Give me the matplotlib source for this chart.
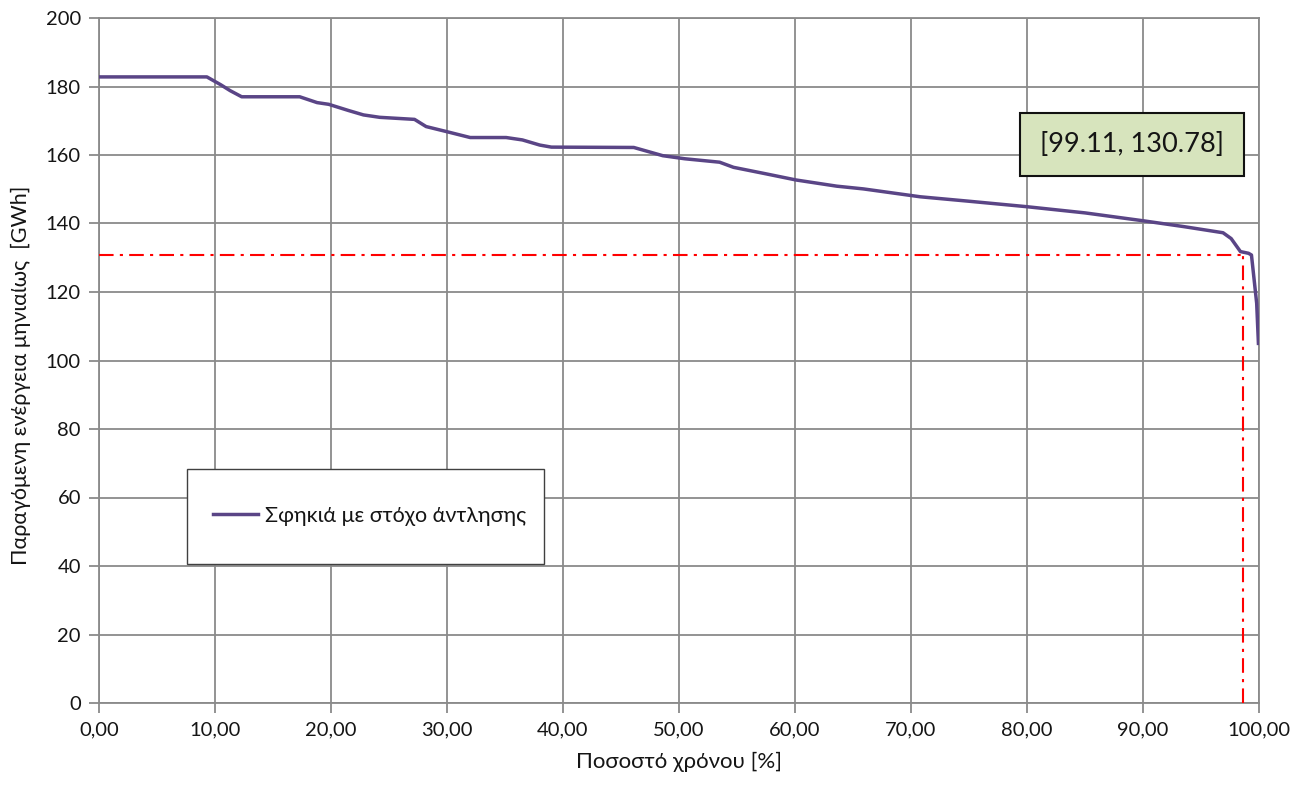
import matplotlib
matplotlib.use("Agg")
import matplotlib.pyplot as plt
from matplotlib.patches import Rectangle
import numpy as np

plt.rcParams['font.family'] = ['Lato', 'Open Sans', 'DejaVu Sans']

# Duration curve: percentage of time vs monthly energy (GWh)
time_pct = [0.0, 9.3, 10.5, 11.3, 12.3, 17.3, 18.8, 19.8, 21.5, 22.8, 24.2, 27.2,
            28.2, 30.0, 32.0, 35.1, 36.5, 38.0, 39.0, 46.1, 48.6, 50.5, 53.5, 54.7,
            57.5, 60.1, 63.6, 65.9, 70.8, 75.0, 80.0, 85.0, 90.0, 93.5, 96.9, 97.6,
            98.4, 99.1, 99.35, 99.8, 99.95]
energy = [182.8, 182.8, 180.5, 178.8, 177.0, 177.0, 175.3, 174.8, 173.0, 171.7, 171.0, 170.4,
          168.3, 166.8, 165.1, 165.1, 164.4, 162.9, 162.3, 162.2, 159.8, 158.9, 157.9, 156.4,
          154.5, 152.7, 150.9, 150.1, 147.8, 146.5, 144.9, 143.1, 140.8, 139.1, 137.3, 135.6,
          131.8, 131.3, 130.8, 116.7, 105.0]

series_label = "Σφηκιά με στόχο άντλησης"
ref_x = 98.65
ref_y = 130.78
annot_text = "[99.11, 130.78]"

x_ticks = np.arange(0, 101, 10)
x_ticklabels = [f"{v:.2f}".replace('.', ',') for v in x_ticks]
y_ticks = np.arange(0, 201, 20)

fig = plt.figure(figsize=(13.09, 7.91), dpi=100)
ax = fig.add_axes([99/1309, 1-703/791, 1160/1309, 685/791])

line_color = '#5A4586'
grid_color = '#8A8A8A'
text_color = '#151515'

ax.plot(time_pct, energy, color=line_color, lw=2.5, zorder=3, label=series_label,
        solid_joinstyle='round')
ax.plot([0, ref_x], [ref_y, ref_y], color='#FF0000', lw=1.5, dashes=(7, 3, 1.5, 3), zorder=4)
ax.plot([ref_x, ref_x], [0, ref_y], color='#FF0000', lw=1.5, dashes=(7, 3, 1.5, 3), zorder=4)

ax.set_xlim(0, 100)
ax.set_ylim(0, 200)
ax.set_xticks(x_ticks)
ax.set_xticklabels(x_ticklabels)
ax.set_yticks(y_ticks)
ax.grid(True, color=grid_color, lw=1.3)
ax.set_axisbelow(True)
for s in ax.spines.values():
    s.set_color(grid_color)
    s.set_linewidth(1.3)
ax.tick_params(axis='both', direction='out', length=7, width=1.3, color=grid_color,
               labelsize=14.5, labelcolor=text_color, pad=6)

ax.set_xlabel("Ποσοστό χρόνου [%]", fontsize=16, color=text_color, labelpad=10)
ax.set_ylabel("Παραγόμενη ενέργεια μηνιαίως  [GWh]", fontsize=15.5, color=text_color)
ax.yaxis.set_label_coords(-0.0585, 0.479)

# legend box
ax.add_patch(Rectangle((0.0759, 0.2029), 0.3077, 0.1387, transform=ax.transAxes,
                       facecolor='white', edgecolor='#404040', lw=1.0, zorder=5))
leg = ax.legend(loc='center left', bbox_to_anchor=(0.0759, 0.273), frameon=False,
                fontsize=15.5, handlelength=2.1, handletextpad=0.3, borderpad=0.0,
                borderaxespad=1.2)
leg.set_zorder(6)
for t in leg.get_texts():
    t.set_color(text_color)

# annotation box
ax.add_patch(Rectangle((0.794, 0.769), 0.193, 0.092, transform=ax.transAxes,
                       facecolor='#D7E4BD', edgecolor='#111111', lw=1.5, zorder=5))
ax.text(0.8905, 0.8146, annot_text, transform=ax.transAxes, ha='center', va='center',
        fontsize=19.5, color=text_color, zorder=6)

fig.savefig("out.png", dpi=100)
